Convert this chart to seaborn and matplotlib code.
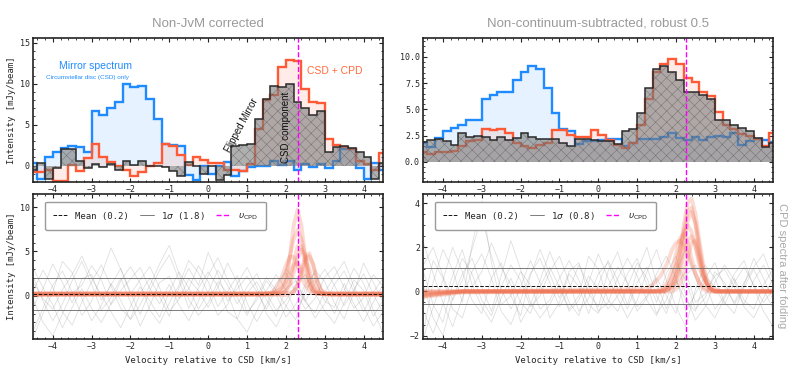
import numpy as np
import pandas as pd
import matplotlib
matplotlib.use("Agg")
import matplotlib.pyplot as plt
import seaborn as sns
from matplotlib.lines import Line2D
from matplotlib.ticker import AutoMinorLocator, FormatStrFormatter

# channel edges (km/s), 0.2 km/s channels
edges = np.round(np.arange(-4.6, 4.61, 0.2), 2)

# --- top panels: stacked spectra (one value per channel, centres -4.5 .. 4.5) ---
mirror_jvm = [0.3, -1.6, 1.1, 1.7, 2.2, 2.4, 2.3, 1.7, 6.7, 6.2, 7.0, 7.8, 10.0, 9.6, 9.7, 8.1,
              5.7, 2.6, 2.5, 2.4, -1.2, -1.8, 0.0, -1.0, 0.0, 0.4, -1.3, -0.7, -0.2, 0.0, -0.1,
              0.5, 0.1, 0.6, -0.5, 0.2, -0.2, 0.2, -0.3, 0.5, 2.0, 2.0, -0.3, -1.7, 0.3, -0.5]
total_jvm = [-0.8, -0.8, -0.5, -1.9, -1.9, 0.1, -0.7, 0.9, 2.6, 1.0, 0.4, 0.0, -0.6, -1.3, -0.8,
             -0.1, 0.3, 2.6, 2.4, 1.3, 0.1, 1.0, 0.7, 0.3, 0.3, -0.5, -0.6, -0.7, 0.2, 4.5, 8.0,
             8.6, 12.0, 12.9, 12.8, 9.4, 7.8, 7.6, 3.2, 2.5, 2.3, 2.0, 0.6, 0.2, -0.6, 1.5]
mirror_rob = [1.8, 1.4, 2.3, 2.9, 3.2, 3.5, 4.0, 4.0, 6.0, 6.4, 6.7, 6.7, 7.8, 8.6, 9.1, 8.8,
              7.0, 4.7, 3.1, 2.9, 1.7, 2.0, 2.0, 2.1, 2.2, 2.2, 1.5, 1.8, 2.2, 2.2, 2.2, 2.4,
              2.8, 2.3, 2.1, 2.4, 2.1, 2.4, 2.5, 2.4, 2.8, 1.6, 2.0, 2.2, 2.1, 1.9]
total_rob = [0.9, 0.8, 0.9, 0.9, 1.0, 1.5, 2.0, 2.1, 3.1, 3.0, 3.1, 2.8, 1.8, 1.5, 1.3, 1.6,
             1.8, 3.0, 3.0, 2.6, 2.4, 2.4, 3.0, 2.6, 2.1, 1.6, 1.3, 1.8, 3.5, 6.0, 8.6, 9.3,
             9.8, 9.3, 8.0, 7.6, 6.7, 6.3, 4.8, 3.5, 3.1, 2.7, 2.5, 2.2, 1.5, 2.8]

v_cpd = [2.3, 2.25]
noise_mean = [0.2, 0.25]
noise_std = [1.8, 0.82]

# --- bottom panels: folded spectra ---
noise_v = np.round(np.arange(-4.5, 4.51, 0.25), 2)
noise_jvm = [
    [-1.2, 0.8, 3.6, 1.5, -0.8, 1.9, 2.4, -0.5, 1.2, 3.1, 0.4, -2.1, 0.6, 2.9, 4.6, 1.8, -1.4, 0.9, 2.7, 1.1, -1.8, -2.6, 0.3, 1.6, -0.4, -2.3, 0.8, 1.7, -0.6, 1.4, 3.0, 1.2, -1.1, 0.7, 2.5, 0.2, -1.9],
    [2.1, -0.6, -2.8, -0.9, 1.7, 3.9, 1.3, -1.6, -0.2, 2.0, -0.7, -3.4, -1.1, 1.5, 2.2, -0.3, 0.8, 3.4, 1.6, -1.2, 0.5, 2.3, -0.8, -2.9, -1.0, 1.4, 2.6, 0.4, -1.5, -0.3, 2.1, 3.3, 0.9, -1.4, -0.2, 2.4, 1.1],
    [-3.9, -1.4, 1.2, 2.8, 0.4, -2.2, -0.6, 2.3, 5.4, 3.0, 0.2, 1.8, 3.3, 0.9, -1.7, -0.4, 1.9, 0.6, -1.3, 1.0, 3.7, 1.5, -1.9, -0.5, 1.7, 0.2, -2.4, -1.0, 1.3, 2.6, 0.1, -2.0, 0.6, 3.1, 1.4, -1.6, -4.2],
    [0.6, 2.9, 1.0, -1.8, -3.3, -0.7, 1.6, 3.5, 1.1, -1.4, -2.6, 0.3, 2.0, -0.1, -2.3, 0.9, 3.1, 1.2, 4.9, 2.4, -0.6, 0.8, 2.2, 0.5, -1.5, 0.9, 3.0, 1.8, -0.4, -2.5, -0.9, 1.3, 2.8, 0.5, -1.8, 0.4, 2.0],
    [-4.6, -2.0, 0.4, 3.9, 2.6, -0.3, -2.8, -1.1, 1.4, -0.5, -2.7, -1.0, 1.2, 3.6, 5.7, 2.5, -0.4, -2.2, -0.8, 1.6, 0.3, -2.6, -4.1, -1.7, 0.6, 2.4, 0.7, -1.8, 0.2, 2.9, 1.6, -0.8, -2.6, 0.4, 3.7, 1.5, -0.7],
    [1.5, -0.3, -1.5, 0.7, 2.4, 4.5, 2.0, 0.1, -1.8, -3.6, -1.2, 1.0, -0.6, -2.4, 0.5, 2.7, 0.9, -1.5, 0.4, 2.9, 1.2, -0.9, 1.0, 2.5, 0.2, -1.6, -0.5, 1.2, 2.4, 0.3, -1.7, -3.1, -0.8, 1.8, 0.6, -2.3, -0.5],
    [3.1, 0.9, -1.0, -3.6, -1.3, 0.8, -1.4, -3.0, -0.9, 1.7, 3.3, 1.4, -1.6, -3.1, -0.8, 1.2, 4.0, 2.6, 0.3, -2.2, -1.0, 1.4, 3.2, 1.0, -2.0, -3.5, -1.2, 0.9, -0.7, -1.9, 0.4, 2.2, 3.9, 1.1, -1.2, -3.4, -1.8],
    [-0.4, -3.0, -4.5, -2.0, 0.3, 1.2, 3.4, 1.8, -1.0, 0.6, 1.9, 3.2, 0.8, -0.9, 1.3, -1.0, -2.8, -0.6, 2.3, 4.3, 1.8, -0.2, -2.2, -0.1, 2.1, 0.6, -1.1, -2.7, 0.9, 1.8, -0.6, -1.3, 1.4, -0.9, -2.9, -0.7, 1.3],
]
noise_rob = [
    [0.9, -0.6, -1.4, 0.3, 1.5, 0.8, -0.4, -1.1, 0.2, 1.2, 0.5, -0.7, -0.2, 0.9, 1.6, 0.4, -0.9, -0.3, 0.8, 1.3, 0.1, -0.8, 0.4, 1.1, -0.2, -1.0, 0.3, 0.9, -0.5, -0.1, 0.7, 1.0, 0.2, -0.6, 0.5, 1.2, 0.3],
    [-1.8, 0.4, 1.9, 1.0, -0.5, 2.1, 4.1, 1.3, -0.6, -0.2, 0.9, 0.3, -0.8, -0.4, 0.6, 1.4, 0.5, -0.6, -1.0, 0.2, 1.1, 0.4, -0.7, -0.2, 0.8, 1.6, 0.6, -0.9, -0.1, 0.7, 0.2, -0.6, 0.4, 1.1, 0.3, -0.5, 0.1],
    [2.2, 0.8, -0.5, -1.6, -0.3, 0.9, 1.7, 0.6, -0.9, -1.5, -0.4, 0.8, 1.5, 0.4, -0.7, 0.1, 1.2, 0.3, -0.9, -0.5, 0.6, 1.5, 0.7, -0.4, -1.1, 0.2, 1.3, 0.5, -0.8, -0.3, 0.9, 0.4, -0.6, 0.2, 1.0, 0.1, -0.8],
    [-0.5, 1.4, 0.6, -0.8, -1.2, 0.2, 0.9, 2.2, 1.1, 0.3, -1.4, -0.6, 0.5, 1.8, 0.7, -0.5, -1.1, 0.4, 1.7, 0.6, -0.3, -1.2, -0.4, 0.9, 1.9, 0.5, -0.7, -1.6, 0.1, 1.2, 0.6, -0.5, -1.0, 0.3, 1.5, 0.6, -0.4],
    [0.3, -1.2, -2.0, -0.3, 0.8, 1.5, 0.2, -0.9, 0.7, 2.3, 1.0, -0.5, -1.2, -0.6, 0.3, -0.8, -0.2, 1.6, 1.0, -0.4, -0.9, 0.2, 1.3, 0.6, -0.5, 0.8, 1.6, -0.2, -1.3, -0.7, 0.4, 1.2, 0.5, -0.7, -1.2, -0.3, 0.6],
    [-2.1, -0.7, 0.5, 2.0, 0.9, -0.4, -1.0, 0.6, 1.3, -0.2, -1.1, 0.7, 1.9, 0.8, -0.3, 0.9, 1.3, -0.1, -0.7, 0.9, 1.8, 0.3, -0.9, -0.3, 0.6, -0.2, -1.0, 0.7, 1.2, 0.4, -0.8, -0.2, 0.8, 1.4, 0.2, -0.9, -1.6],
    [1.2, 2.0, 0.7, -0.4, 0.5, 1.9, 3.4, 1.6, 0.1, -0.8, 0.2, 1.4, 0.4, -1.2, -0.5, 0.8, 0.2, -1.0, 0.3, 1.4, 0.5, -0.6, 0.9, 2.0, 0.4, -0.8, 0.5, -0.4, -0.9, 0.6, 1.3, 0.2, -0.5, 0.4, 1.1, 1.7, 0.5],
    [-0.9, -1.9, -0.6, 0.7, 1.9, 0.3, -0.7, -1.4, -0.3, 0.6, -0.5, -1.0, 0.2, 1.1, 0.2, -0.9, -0.4, 0.7, 0.1, -0.8, -0.2, 0.8, 1.5, 0.3, -1.0, -0.4, 0.9, 1.9, 0.6, -0.6, -1.2, -0.3, 0.6, -0.4, -0.8, 0.3, 1.0],
]

model_v = [-4.5, -3.5, 1.2, 1.4, 1.6, 1.7, 1.8, 1.9, 2.0, 2.1, 2.2, 2.3, 2.4, 2.5, 2.6, 2.7, 2.8, 2.9, 3.0, 3.2, 4.5]
model_jvm = [
    [0.25, 0.25, 0.25, 0.25, 0.25, 0.25, 0.3, 0.5, 1.6, 4.3, 7.9, 9.7, 7.9, 4.3, 1.6, 0.5, 0.3, 0.25, 0.25, 0.25, 0.25],
    [0.15, 0.15, 0.15, 0.15, 0.2, 0.3, 0.5, 1.1, 2.4, 4.4, 6.4, 7.4, 6.4, 4.4, 2.4, 1.1, 0.5, 0.3, 0.2, 0.15, 0.15],
    [0.2, 0.2, 0.2, 0.2, 0.3, 0.6, 1.2, 2.2, 3.4, 4.4, 4.4, 3.4, 2.2, 1.2, 0.6, 0.3, 0.2, 0.2, 0.2, 0.2, 0.2],
    [0.3, 0.3, 0.3, 0.3, 0.3, 0.3, 0.3, 0.3, 0.3, 0.35, 0.5, 1.3, 2.9, 4.4, 4.8, 3.5, 1.6, 0.6, 0.3, 0.3, 0.3],
    [0.1, 0.1, 0.1, 0.1, 0.1, 0.1, 0.1, 0.1, 0.1, 0.2, 0.4, 1.0, 2.4, 4.0, 4.5, 3.6, 1.9, 0.7, 0.3, 0.1, 0.1],
    [0.2, 0.2, 0.2, 0.2, 0.2, 0.2, 0.2, 0.3, 0.6, 1.6, 3.6, 5.6, 5.6, 3.6, 1.6, 0.6, 0.3, 0.2, 0.2, 0.2, 0.2],
    [0.25, 0.25, 0.25, 0.25, 0.25, 0.25, 0.25, 0.3, 0.5, 1.2, 2.6, 4.3, 5.2, 4.6, 3.0, 1.5, 0.6, 0.3, 0.25, 0.25, 0.25],
    [0.15, 0.15, 0.15, 0.2, 0.3, 0.4, 0.6, 0.9, 1.6, 2.6, 3.5, 3.7, 3.1, 2.1, 1.2, 0.6, 0.3, 0.2, 0.15, 0.15, 0.15],
]
model_rob = [
    [-0.1, 0.0, 0.0, 0.0, 0.0, 0.1, 0.2, 0.4, 0.9, 1.8, 3.0, 4.0, 4.2, 3.5, 2.3, 1.2, 0.5, 0.2, 0.1, 0.0, 0.0],
    [-0.25, -0.05, 0.0, 0.0, 0.0, 0.0, 0.1, 0.2, 0.5, 1.1, 2.1, 3.2, 3.6, 3.1, 2.0, 1.0, 0.4, 0.1, 0.0, 0.0, 0.0],
    [-0.2, 0.0, 0.0, 0.0, 0.0, 0.1, 0.3, 0.6, 1.2, 2.0, 2.7, 3.0, 2.7, 2.0, 1.2, 0.6, 0.3, 0.1, 0.0, 0.0, 0.0],
    [0.0, 0.0, 0.0, 0.0, 0.0, 0.0, 0.0, 0.0, 0.1, 0.3, 0.8, 1.5, 2.2, 2.3, 1.6, 0.8, 0.3, 0.1, 0.0, 0.0, 0.0],
    [-0.2, 0.0, 0.1, 0.3, 0.7, 1.0, 1.4, 1.9, 2.2, 2.3, 2.1, 1.7, 1.2, 0.8, 0.4, 0.2, 0.1, 0.0, 0.0, 0.0, 0.0],
    [0.0, 0.0, 0.0, 0.0, 0.1, 0.2, 0.5, 1.0, 1.7, 2.4, 2.6, 2.2, 1.5, 0.8, 0.4, 0.1, 0.0, 0.0, 0.0, 0.0, 0.0],
    [-0.15, 0.0, 0.0, 0.0, 0.0, 0.0, 0.1, 0.3, 0.7, 1.5, 2.7, 3.6, 3.8, 3.0, 1.8, 0.8, 0.3, 0.1, 0.0, 0.0, 0.0],
    [-0.05, 0.0, 0.0, 0.0, 0.0, 0.0, 0.1, 0.2, 0.4, 0.9, 1.6, 2.3, 2.5, 2.1, 1.4, 0.7, 0.3, 0.1, 0.0, 0.0, 0.0],
]

titles = ["Non-JvM corrected", "Non-continuum-subtracted, robust 0.5"]
top_ylims = [(-2.0, 15.6), (-1.9, 11.8)]
bot_ylims = [(-4.85, 11.5), (-2.15, 4.42)]

BLUE = "#1f8bff"
RED = "#ff5a36"
SANS = "Liberation Sans"

sns.set_theme(style="ticks")
plt.rcParams["font.family"] = ["DejaVu Sans Mono"]
plt.rcParams["hatch.linewidth"] = 0.4


def long_df(v, curves):
    rows = []
    for k, c in enumerate(curves):
        for x, y in zip(v, c):
            rows.append({"v": x, "I": y, "curve": k})
    return pd.DataFrame(rows)


def style_axes(ax):
    ax.set_xlim(-4.5, 4.5)
    ax.set_xticks(range(-4, 5))
    ax.xaxis.set_minor_locator(AutoMinorLocator())
    ax.yaxis.set_minor_locator(AutoMinorLocator())
    ax.tick_params(which="both", direction="in", top=True, right=True, labelsize=6,
                   color="#222222", pad=2.5)
    ax.tick_params(which="major", length=3, width=0.8)
    ax.tick_params(which="minor", length=1.6, width=0.6)
    for s in ax.spines.values():
        s.set_color("#222222")
        s.set_linewidth(1.2)


fig = plt.figure(figsize=(7.93, 3.72), dpi=100)
lefts = [0.042, 0.534]
mirrors = [np.array(mirror_jvm), np.array(mirror_rob)]
totals = [np.array(total_jvm), np.array(total_rob)]
noises = [noise_jvm, noise_rob]
models = [model_jvm, model_rob]

for i in range(2):
    top = fig.add_axes([lefts[i], 0.511, 0.441, 0.387])
    bot = fig.add_axes([lefts[i], 0.089, 0.441, 0.390])

    # ---- top: mirror, CSD+CPD and flipped mirror
    mirror, total = mirrors[i], totals[i]
    flipped = mirror[::-1]
    top.stairs(mirror, edges, baseline=0, fill=True, facecolor=BLUE, alpha=0.11, lw=0)
    top.stairs(total, edges, baseline=0, fill=True, facecolor=RED, alpha=0.11, lw=0)
    top.stairs(mirror, edges, baseline=None, color=BLUE, lw=1.7)
    top.stairs(total, edges, baseline=None, color=RED, lw=1.7)
    top.stairs(flipped, edges, baseline=0, fill=True, facecolor="#7a7a7a",
               edgecolor="#555555", hatch="xxx", alpha=0.6, lw=0)
    top.stairs(flipped, edges, baseline=None, color="#2a2a2a", lw=1.1)
    top.axvline(v_cpd[i], color="magenta", ls="--", lw=1.0)
    top.set_ylim(*top_ylims[i])
    style_axes(top)
    top.set_title(titles[i], fontsize=9.5, color="#9a9a9a", family=SANS, pad=8)

    # ---- bottom: folded spectra
    sns.lineplot(data=long_df(noise_v, noises[i]), x="v", y="I", units="curve",
                 estimator=None, color="#808080", alpha=0.25, lw=0.6, ax=bot, legend=False)
    sns.lineplot(data=long_df(model_v, models[i]), x="v", y="I", units="curve",
                 estimator=None, color="#f0704f", alpha=0.25, lw=2.8, ax=bot, legend=False)
    m, s = noise_mean[i], noise_std[i]
    bot.axhline(m, color="#111111", ls="--", lw=0.7)
    bot.axhline(m + s, color="#666666", lw=0.6)
    bot.axhline(m - s, color="#666666", lw=0.6)
    bot.axvline(v_cpd[i], color="magenta", ls="--", lw=1.0)
    bot.set_ylim(*bot_ylims[i])
    style_axes(bot)
    bot.set_xlabel("Velocity relative to CSD [km/s]", fontsize=6.5, labelpad=3)
    bot.set_ylabel("")

    handles = [Line2D([], [], color="#111111", ls="--", lw=0.7),
               Line2D([], [], color="#666666", lw=0.6),
               Line2D([], [], color="magenta", ls="--", lw=1.0)]
    labels = [f"Mean ({m:.1f})", rf"1$\sigma$ ({s:.1f})", r"$\upsilon_{\rm CPD}$"]
    leg = bot.legend(handles, labels, loc="upper left", bbox_to_anchor=(0.034, 0.947),
                     borderaxespad=0, ncol=3, fontsize=6.5, handlelength=1.6,
                     columnspacing=1.2, borderpad=0.9, frameon=True, fancybox=True,
                     framealpha=1)
    leg.get_frame().set_edgecolor("#9a9a9a")
    leg.get_frame().set_linewidth(1.0)

    if i == 0:
        top.set_yticks([0, 5, 10, 15])
        bot.set_yticks([0, 5, 10])
        top.set_ylabel("Intensity [mJy/beam]", fontsize=6.5, labelpad=3)
        bot.set_ylabel("Intensity [mJy/beam]", fontsize=6.5, labelpad=3)
        top.text(-2.9, 12.2, "Mirror spectrum", color=BLUE, fontsize=7.5, family=SANS,
                 ha="center", va="center")
        top.text(-3.1, 10.8, "Circumstellar disc (CSD) only", color=BLUE, fontsize=4.6,
                 family=SANS, ha="center", va="center")
        top.text(3.25, 11.5, "CSD + CPD", color="#ff6a3d", fontsize=7.5, family=SANS,
                 ha="center", va="center")
        top.text(0.85, 4.9, "Flipped Mirror", color="#111111", fontsize=7, family=SANS,
                 rotation=62, ha="center", va="center")
        top.text(2.0, 4.7, "CSD component", color="#111111", fontsize=7, family=SANS,
                 rotation=90, ha="center", va="center")
    else:
        top.set_yticks([0, 2.5, 5, 7.5, 10])
        top.yaxis.set_major_formatter(FormatStrFormatter("%.1f"))
        bot.set_yticks([-2, 0, 2, 4])
        top.set_ylabel("")

fig.text(0.986, 0.285, "CPD spectra after folding", rotation=270, fontsize=8,
         color="#aaaaaa", family=SANS, ha="center", va="center")

fig.savefig("out.png", dpi=100)
